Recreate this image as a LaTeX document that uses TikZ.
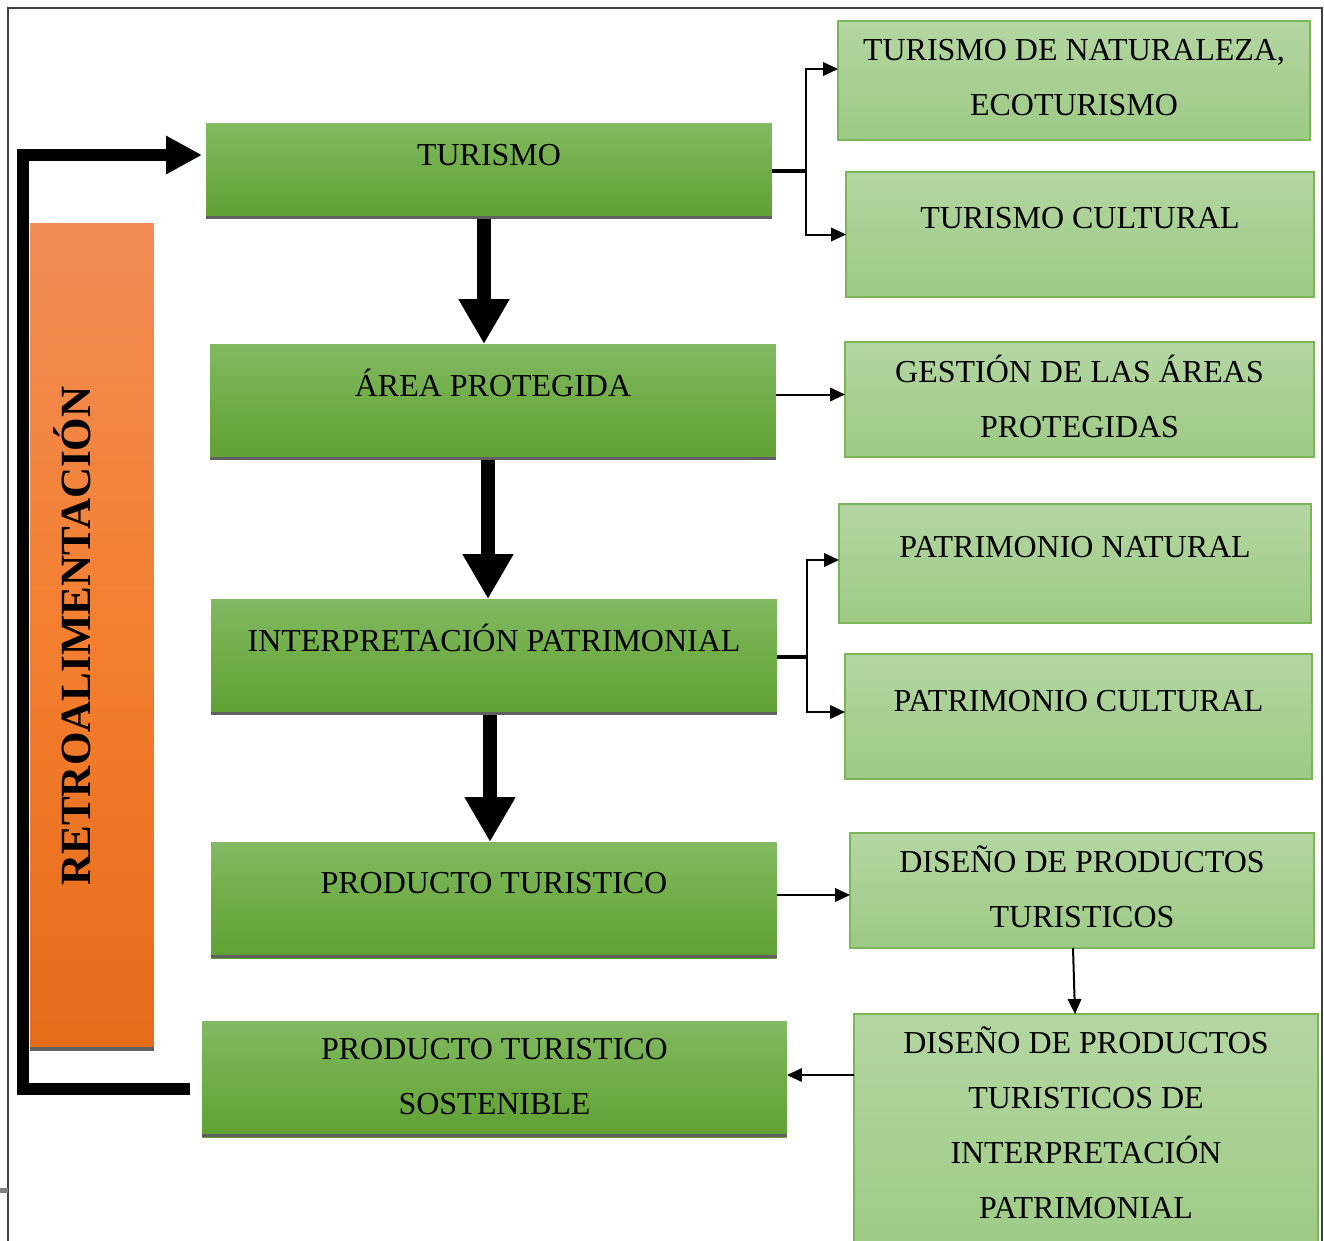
\documentclass[tikz,border=0pt]{standalone}
\usepackage{fontspec}
\setmainfont{Liberation Serif}
\usetikzlibrary{arrows.meta, positioning, calc}
\definecolor{topgreen}{RGB}{130,185,98}
\definecolor{midgreen}{RGB}{112,173,71}
\definecolor{botgreen}{RGB}{96,160,52}
\definecolor{paletop}{RGB}{180,214,162}
\definecolor{palebot}{RGB}{157,202,132}
\definecolor{paleedge}{RGB}{122,182,88}
\definecolor{orangetop}{RGB}{240,140,85}
\definecolor{orangemid}{RGB}{244,127,48}
\definecolor{orangebot}{RGB}{229,107,25}
\definecolor{shadowgray}{RGB}{96,96,96}

\begin{document}
\begin{tikzpicture}[x=0.02cm, y=-0.02cm,
  mainbox/.style={inner sep=0pt, outer sep=0pt, minimum width=11.32cm, align=center,
    top color=topgreen, bottom color=botgreen, middle color=midgreen,
    font=\fontsize{18.2}{31.3}\selectfont,
    path picture={\fill[shadowgray] ([yshift=0.06cm]path picture bounding box.south west) rectangle (path picture bounding box.south east);}},
  subbox/.style={draw=paleedge, line width=0.03cm, inner sep=0pt, outer sep=0pt, align=center,
    top color=paletop, bottom color=palebot, font=\fontsize{18.2}{31.3}\selectfont},
  retrobox/.style={inner sep=0pt, outer sep=0pt, minimum width=2.48cm, minimum height=16.56cm,
    top color=orangetop, bottom color=orangebot, middle color=orangemid,
    path picture={\fill[shadowgray] ([yshift=0.08cm]path picture bounding box.south west) rectangle (path picture bounding box.south east);}},
  bigarrow/.style={line width=0.28cm, -{Triangle[length=0.9cm, width=0.96cm]}},
  fbarrow/.style={line width=0.24cm, -{Triangle[length=0.72cm, width=0.72cm]}},
  thinarrow/.style={line width=0.04cm, -{Triangle[length=0.3cm, width=0.27cm]}},
  forkline/.style={line width=0.07cm}
]
  \useasboundingbox (0,0) rectangle (1324,1240);
  \draw[black!75, line width=0.03cm] (8,1260) -- (8,8) -- (1322,8) -- (1322,1260);
  \draw[gray, line width=0.1cm] (0,1190) -- (8,1190);

  \node[retrobox] (retro) at (92,637) {};
  \node[rotate=90, anchor=base, font=\fontsize{24.5}{24.5}\selectfont\bfseries] (retrotxt) at (90,636) {RETROALIMENTACIÓN};

  \node[mainbox, text height=0.85cm, text depth=1.07cm] (tur) at (489,171) {TURISMO};
  \node[mainbox, text height=1.05cm, text depth=1.27cm] (area) at (493,402) {ÁREA PROTEGIDA};
  \node[mainbox, text height=1.05cm, text depth=1.27cm] (interp) at (494,657) {INTERPRETACIÓN PATRIMONIAL};
  \node[mainbox, text height=1.03cm, text depth=1.29cm] (prod) at (494,900) {PRODUCTO TURISTICO};
  \node[mainbox, minimum width=11.7cm, text height=1.87cm, text depth=0.45cm] (sost) at (494.5,1079) {PRODUCTO TURISTICO\\SOSTENIBLE};

  \node[subbox, minimum width=9.44cm, text height=1.89cm, text depth=0.49cm] (nat) at (1074,80.5) {TURISMO DE NATURALEZA,\\ECOTURISMO};
  \node[subbox, minimum width=9.36cm, text height=1.13cm, text depth=1.37cm] (cult) at (1080,234.5) {TURISMO CULTURAL};
  \node[subbox, minimum width=9.38cm, text height=1.91cm, text depth=0.39cm] (gest) at (1079.5,399.5) {GESTIÓN DE LAS ÁREAS\\PROTEGIDAS};
  \node[subbox, minimum width=9.44cm, text height=1.07cm, text depth=1.31cm] (pnat) at (1075,563.5) {PATRIMONIO NATURAL};
  \node[subbox, minimum width=9.34cm, text height=1.15cm, text depth=1.35cm] (pcult) at (1078.5,716.5) {PATRIMONIO CULTURAL};
  \node[subbox, minimum width=9.28cm, text height=1.89cm, text depth=0.41cm] (dis) at (1082,890.5) {DISEÑO DE PRODUCTOS\\TURISTICOS};
  \node[subbox, minimum width=9.28cm, text height=4.09cm, text depth=0.83cm] (disint) at (1086,1137) {DISEÑO DE PRODUCTOS\\TURISTICOS DE\\INTERPRETACIÓN\\PATRIMONIAL};

  \draw[bigarrow] ([xshift=-0.1cm]tur.south) -- ([xshift=-0.1cm]tur.south |- area.north);
  \draw[bigarrow] ([xshift=-0.1cm]area.south) -- ([xshift=-0.1cm]area.south |- interp.north);
  \draw[bigarrow] ([xshift=-0.08cm]interp.south) -- ([xshift=-0.08cm]interp.south |- prod.north);

  \draw[fbarrow] ([xshift=-0.24cm, yshift=-0.2cm]sost.west) -- ++(-167,0) |- ([xshift=-0.08cm, yshift=0.32cm]tur.west);

  \draw[forkline] (tur.east) -- ++(34,0) coordinate (fork1);
  \draw[thinarrow] (fork1) |- ([yshift=0.23cm]nat.west);
  \draw[thinarrow] (fork1) |- (cult.west);
  \draw[thinarrow] ([yshift=0.1cm]area.east |- gest.west) -- ([yshift=0.1cm]gest.west);
  \draw[forkline] (interp.east) -- ++(30,0) coordinate (fork2);
  \draw[thinarrow] (fork2) |- ([yshift=0.07cm]pnat.west);
  \draw[thinarrow] (fork2) |- ([yshift=0.09cm]pcult.west);
  \draw[thinarrow] ([yshift=0.1cm]prod.east) -- ([yshift=0.1cm]prod.east -| dis.west);
  \draw[thinarrow] ([xshift=-0.18cm]dis.south) -- ([xshift=-0.22cm]disint.north);
  \draw[thinarrow] ([yshift=0.08cm]sost.east -| disint.west) -- ([yshift=0.08cm]sost.east);
\end{tikzpicture}
\end{document}
